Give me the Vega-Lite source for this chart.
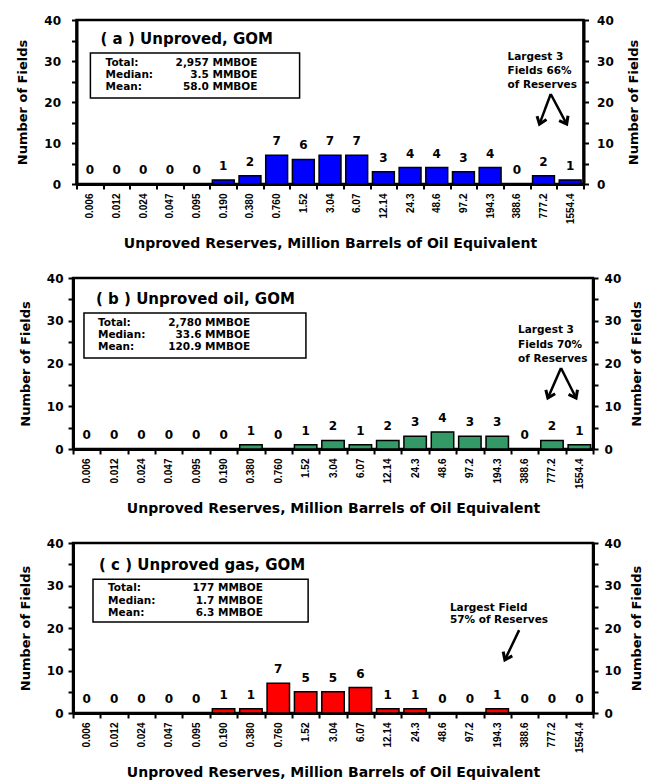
{
  "$schema": "https://vega.github.io/schema/vega-lite/v6.json",
  "padding": {"top": 12, "left": 15, "right": 14, "bottom": 0},
  "background": "white",
  "spacing": 18,
  "center": true,
  "config": {
    "font": "DejaVu Sans",
    "view": {"stroke": "black", "strokeWidth": 2.5},
    "axis": {
      "labelFont": "DejaVu Sans", "labelFontWeight": "bold", "labelColor": "black", "labelFontSize": 12,
      "titleFont": "DejaVu Sans", "titleFontWeight": "bold", "titleColor": "black", "titleFontSize": 13,
      "domainColor": "black", "domainWidth": 3, "tickColor": "black", "tickWidth": 2, "tickSize": 5, "grid": false
    },
    "text": {"font": "DejaVu Sans", "fontWeight": "bold", "color": "black"}
  },
  "datasets": {
    "a": [
      {"size": "0.006", "fields": 0}, {"size": "0.012", "fields": 0}, {"size": "0.024", "fields": 0},
      {"size": "0.047", "fields": 0}, {"size": "0.095", "fields": 0}, {"size": "0.190", "fields": 1},
      {"size": "0.380", "fields": 2}, {"size": "0.760", "fields": 7}, {"size": "1.52", "fields": 6},
      {"size": "3.04", "fields": 7}, {"size": "6.07", "fields": 7}, {"size": "12.14", "fields": 3},
      {"size": "24.3", "fields": 4}, {"size": "48.6", "fields": 4}, {"size": "97.2", "fields": 3},
      {"size": "194.3", "fields": 4}, {"size": "388.6", "fields": 0}, {"size": "777.2", "fields": 2},
      {"size": "1554.4", "fields": 1}
    ],
    "b": [
      {"size": "0.006", "fields": 0}, {"size": "0.012", "fields": 0}, {"size": "0.024", "fields": 0},
      {"size": "0.047", "fields": 0}, {"size": "0.095", "fields": 0}, {"size": "0.190", "fields": 0},
      {"size": "0.380", "fields": 1}, {"size": "0.760", "fields": 0}, {"size": "1.52", "fields": 1},
      {"size": "3.04", "fields": 2}, {"size": "6.07", "fields": 1}, {"size": "12.14", "fields": 2},
      {"size": "24.3", "fields": 3}, {"size": "48.6", "fields": 4}, {"size": "97.2", "fields": 3},
      {"size": "194.3", "fields": 3}, {"size": "388.6", "fields": 0}, {"size": "777.2", "fields": 2},
      {"size": "1554.4", "fields": 1}
    ],
    "c": [
      {"size": "0.006", "fields": 0}, {"size": "0.012", "fields": 0}, {"size": "0.024", "fields": 0},
      {"size": "0.047", "fields": 0}, {"size": "0.095", "fields": 0}, {"size": "0.190", "fields": 1},
      {"size": "0.380", "fields": 1}, {"size": "0.760", "fields": 7}, {"size": "1.52", "fields": 5},
      {"size": "3.04", "fields": 5}, {"size": "6.07", "fields": 6}, {"size": "12.14", "fields": 1},
      {"size": "24.3", "fields": 1}, {"size": "48.6", "fields": 0}, {"size": "97.2", "fields": 0},
      {"size": "194.3", "fields": 1}, {"size": "388.6", "fields": 0}, {"size": "777.2", "fields": 0},
      {"size": "1554.4", "fields": 0}
    ]
  },
  "vconcat": [
    {
      "width": 507, "height": 164,
      "layer": [
        {
          "data": {"name": "a"},
          "mark": {"type": "bar", "color": "#0000ff", "stroke": "black", "strokeWidth": 1.5},
          "encoding": {
            "x": {"field": "size", "type": "ordinal", "sort": null, "scale": {"paddingInner": 0.18, "paddingOuter": 0.09}, "axis": null},
            "y": {"field": "fields", "type": "quantitative", "scale": {"domain": [0, 40], "nice": false},
              "axis": {"orient": "left", "values": [0, 5, 10, 15, 20, 25, 30, 35, 40], "labelExpr": "datum.value % 10 === 0 ? datum.label : ''", "labelOverlap": false, "title": "Number of Fields", "labelPadding": 11, "titlePadding": 14}}
          }
        },
        {
          "data": {"name": "a"},
          "mark": {"type": "text", "fontSize": 12, "fontWeight": "bold", "baseline": "middle", "dy": -14},
          "encoding": {
            "x": {"field": "size", "type": "ordinal", "sort": null, "scale": {"paddingInner": 0.18, "paddingOuter": 0.09},
              "axis": {"orient": "bottom", "title": "Unproved Reserves, Million Barrels of Oil Equivalent", "titleFontSize": 14, "labelFont": "Liberation Sans", "labelAngle": -90, "labelFontSize": 10, "ticks": false, "tickSize": 0, "domain": false, "labelPadding": 9, "titlePadding": 13, "labelOverlap": false}},
            "y": {"field": "fields", "type": "quantitative", "scale": {"domain": [0, 40], "nice": false},
              "axis": {"orient": "right", "values": [0, 5, 10, 15, 20, 25, 30, 35, 40], "labelExpr": "datum.value % 10 === 0 ? datum.label : ''", "labelOverlap": false, "title": "Number of Fields", "titleAngle": 270, "titleBaseline": "top", "labelPadding": 8, "titlePadding": 14}},
            "text": {"field": "fields", "type": "quantitative"}
          }
        },
        {
          "data": {"values": [{}]},
          "mark": {"type": "rect", "fill": "white", "stroke": "black", "strokeWidth": 1.5},
          "encoding": {
            "x": {"datum": 0.52, "type": "quantitative", "scale": {"domain": [0, 19], "nice": false, "zero": false},
              "axis": {"orient": "bottom", "values": [0, 1, 2, 3, 4, 5, 6, 7, 8, 9, 10, 11, 12, 13, 14, 15, 16, 17, 18, 19], "labels": false, "title": null, "tickSize": 5}},
            "x2": {"datum": 8.36},
            "y": {"datum": 31.95, "type": "quantitative", "scale": {"domain": [0, 40], "nice": false}, "axis": null},
            "y2": {"datum": 21.0}
          }
        },
        {
          "data": {"values": [{}]},
          "mark": {"type": "text", "text": "( a )  Unproved, GOM", "align": "left", "baseline": "alphabetic", "fontSize": 15, "fontWeight": "bold"},
          "encoding": {
            "x": {"datum": 0.9, "type": "quantitative", "scale": {"domain": [0, 19], "nice": false, "zero": false}, "axis": null},
            "y": {"datum": 34.15, "type": "quantitative", "scale": {"domain": [0, 40], "nice": false}, "axis": null}
          }
        },
        {
          "data": {"values": [{}]},
          "mark": {"type": "text", "text": ["Total:", "Median:", "Mean:"], "align": "left", "baseline": "alphabetic", "fontSize": 10.5, "fontWeight": "bold", "lineHeight": 12},
          "encoding": {
            "x": {"datum": 1.09, "type": "quantitative", "scale": {"domain": [0, 19], "nice": false, "zero": false}, "axis": null},
            "y": {"datum": 28.78, "type": "quantitative", "scale": {"domain": [0, 40], "nice": false}, "axis": null}
          }
        },
        {
          "data": {"values": [{}]},
          "mark": {"type": "text", "text": ["2,957 MMBOE", "3.5 MMBOE", "58.0 MMBOE"], "align": "right", "baseline": "alphabetic", "fontSize": 10.5, "fontWeight": "bold", "lineHeight": 12},
          "encoding": {
            "x": {"datum": 6.78, "type": "quantitative", "scale": {"domain": [0, 19], "nice": false, "zero": false}, "axis": null},
            "y": {"datum": 28.78, "type": "quantitative", "scale": {"domain": [0, 40], "nice": false}, "axis": null}
          }
        },
        {
          "data": {"values": [{}]},
          "mark": {"type": "text", "text": ["Largest 3", "Fields 66%", "of Reserves"], "align": "left", "baseline": "alphabetic", "fontSize": 10.5, "fontWeight": "bold", "lineHeight": 14},
          "encoding": {
            "x": {"datum": 16.15, "type": "quantitative", "scale": {"domain": [0, 19], "nice": false, "zero": false}, "axis": null},
            "y": {"datum": 30.24, "type": "quantitative", "scale": {"domain": [0, 40], "nice": false}, "axis": null}
          }
        },
        {
          "data": {"values": [{}]},
          "mark": {"type": "rule", "strokeWidth": 2.5, "color": "black"},
          "encoding": {
            "x": {"datum": 17.77, "type": "quantitative", "scale": {"domain": [0, 19], "nice": false, "zero": false}, "axis": null},
            "x2": {"datum": 17.35},
            "y": {"datum": 21.95, "type": "quantitative", "scale": {"domain": [0, 40], "nice": false}, "axis": null},
            "y2": {"datum": 14.6}
          }
        },
        {
          "data": {"values": [{}]},
          "mark": {"type": "rule", "strokeWidth": 2.5, "color": "black"},
          "encoding": {
            "x": {"datum": 17.77, "type": "quantitative", "scale": {"domain": [0, 19], "nice": false, "zero": false}, "axis": null},
            "x2": {"datum": 18.37},
            "y": {"datum": 21.95, "type": "quantitative", "scale": {"domain": [0, 40], "nice": false}, "axis": null},
            "y2": {"datum": 14.6}
          }
        },
        {
          "data": {"values": [{}]},
          "mark": {"type": "point", "shape": "M-1,-0.75L0,0L-1,0.75", "size": 180, "strokeWidth": 3, "filled": false, "color": "black", "opacity": 1, "angle": 110},
          "encoding": {
            "x": {"datum": 17.35, "type": "quantitative", "scale": {"domain": [0, 19], "nice": false, "zero": false}, "axis": null},
            "y": {"datum": 14.6, "type": "quantitative", "scale": {"domain": [0, 40], "nice": false}, "axis": null}
          }
        },
        {
          "data": {"values": [{}]},
          "mark": {"type": "point", "shape": "M-1,-0.75L0,0L-1,0.75", "size": 180, "strokeWidth": 3, "filled": false, "color": "black", "opacity": 1, "angle": 62},
          "encoding": {
            "x": {"datum": 18.37, "type": "quantitative", "scale": {"domain": [0, 19], "nice": false, "zero": false}, "axis": null},
            "y": {"datum": 14.6, "type": "quantitative", "scale": {"domain": [0, 40], "nice": false}, "axis": null}
          }
        }
      ],
      "resolve": {"scale": {"x": "independent"}, "axis": {"x": "independent", "y": "independent"}}
    },
    {
      "width": 520, "height": 171,
      "layer": [
        {
          "data": {"name": "b"},
          "mark": {"type": "bar", "color": "#339966", "stroke": "black", "strokeWidth": 1.5},
          "encoding": {
            "x": {"field": "size", "type": "ordinal", "sort": null, "scale": {"paddingInner": 0.18, "paddingOuter": 0.09}, "axis": null},
            "y": {"field": "fields", "type": "quantitative", "scale": {"domain": [0, 40], "nice": false},
              "axis": {"orient": "left", "values": [0, 5, 10, 15, 20, 25, 30, 35, 40], "labelExpr": "datum.value % 10 === 0 ? datum.label : ''", "labelOverlap": false, "title": "Number of Fields", "labelPadding": 5, "titlePadding": 14}}
          }
        },
        {
          "data": {"name": "b"},
          "mark": {"type": "text", "fontSize": 12, "fontWeight": "bold", "baseline": "middle", "dy": -14},
          "encoding": {
            "x": {"field": "size", "type": "ordinal", "sort": null, "scale": {"paddingInner": 0.18, "paddingOuter": 0.09},
              "axis": {"orient": "bottom", "title": "Unproved Reserves, Million Barrels of Oil Equivalent", "titleFontSize": 14, "labelFont": "Liberation Sans", "labelAngle": -90, "labelFontSize": 10, "ticks": false, "tickSize": 0, "domain": false, "labelPadding": 9, "titlePadding": 13, "labelOverlap": false}},
            "y": {"field": "fields", "type": "quantitative", "scale": {"domain": [0, 40], "nice": false},
              "axis": {"orient": "right", "values": [0, 5, 10, 15, 20, 25, 30, 35, 40], "labelExpr": "datum.value % 10 === 0 ? datum.label : ''", "labelOverlap": false, "title": "Number of Fields", "titleAngle": 270, "titleBaseline": "top", "labelPadding": 6, "titlePadding": 10}},
            "text": {"field": "fields", "type": "quantitative"}
          }
        },
        {
          "data": {"values": [{}]},
          "mark": {"type": "rect", "fill": "white", "stroke": "black", "strokeWidth": 1.5},
          "encoding": {
            "x": {"datum": 0.4, "type": "quantitative", "scale": {"domain": [0, 19], "nice": false, "zero": false},
              "axis": {"orient": "bottom", "values": [0, 1, 2, 3, 4, 5, 6, 7, 8, 9, 10, 11, 12, 13, 14, 15, 16, 17, 18, 19], "labels": false, "title": null, "tickSize": 5}},
            "x2": {"datum": 8.51},
            "y": {"datum": 31.8, "type": "quantitative", "scale": {"domain": [0, 40], "nice": false}, "axis": null},
            "y2": {"datum": 21.3}
          }
        },
        {
          "data": {"values": [{}]},
          "mark": {"type": "text", "text": "( b )  Unproved oil, GOM", "align": "left", "baseline": "alphabetic", "fontSize": 15, "fontWeight": "bold"},
          "encoding": {
            "x": {"datum": 0.84, "type": "quantitative", "scale": {"domain": [0, 19], "nice": false, "zero": false}, "axis": null},
            "y": {"datum": 33.9, "type": "quantitative", "scale": {"domain": [0, 40], "nice": false}, "axis": null}
          }
        },
        {
          "data": {"values": [{}]},
          "mark": {"type": "text", "text": ["Total:", "Median:", "Mean:"], "align": "left", "baseline": "alphabetic", "fontSize": 10.5, "fontWeight": "bold", "lineHeight": 12},
          "encoding": {
            "x": {"datum": 0.91, "type": "quantitative", "scale": {"domain": [0, 19], "nice": false, "zero": false}, "axis": null},
            "y": {"datum": 28.77, "type": "quantitative", "scale": {"domain": [0, 40], "nice": false}, "axis": null}
          }
        },
        {
          "data": {"values": [{}]},
          "mark": {"type": "text", "text": ["2,780 MMBOE", "33.6 MMBOE", "120.9 MMBOE"], "align": "right", "baseline": "alphabetic", "fontSize": 10.5, "fontWeight": "bold", "lineHeight": 12},
          "encoding": {
            "x": {"datum": 6.47, "type": "quantitative", "scale": {"domain": [0, 19], "nice": false, "zero": false}, "axis": null},
            "y": {"datum": 28.77, "type": "quantitative", "scale": {"domain": [0, 40], "nice": false}, "axis": null}
          }
        },
        {
          "data": {"values": [{}]},
          "mark": {"type": "text", "text": ["Largest 3", "Fields 70%", "of Reserves"], "align": "left", "baseline": "alphabetic", "fontSize": 10.5, "fontWeight": "bold", "lineHeight": 14.5},
          "encoding": {
            "x": {"datum": 16.26, "type": "quantitative", "scale": {"domain": [0, 19], "nice": false, "zero": false}, "axis": null},
            "y": {"datum": 27.13, "type": "quantitative", "scale": {"domain": [0, 40], "nice": false}, "axis": null}
          }
        },
        {
          "data": {"values": [{}]},
          "mark": {"type": "rule", "strokeWidth": 2.5, "color": "black"},
          "encoding": {
            "x": {"datum": 17.83, "type": "quantitative", "scale": {"domain": [0, 19], "nice": false, "zero": false}, "axis": null},
            "x2": {"datum": 17.35},
            "y": {"datum": 18.95, "type": "quantitative", "scale": {"domain": [0, 40], "nice": false}, "axis": null},
            "y2": {"datum": 11.93}
          }
        },
        {
          "data": {"values": [{}]},
          "mark": {"type": "rule", "strokeWidth": 2.5, "color": "black"},
          "encoding": {
            "x": {"datum": 17.83, "type": "quantitative", "scale": {"domain": [0, 19], "nice": false, "zero": false}, "axis": null},
            "x2": {"datum": 18.38},
            "y": {"datum": 18.95, "type": "quantitative", "scale": {"domain": [0, 40], "nice": false}, "axis": null},
            "y2": {"datum": 11.93}
          }
        },
        {
          "data": {"values": [{}]},
          "mark": {"type": "point", "shape": "M-1,-0.75L0,0L-1,0.75", "size": 180, "strokeWidth": 3, "filled": false, "color": "black", "opacity": 1, "angle": 113},
          "encoding": {
            "x": {"datum": 17.35, "type": "quantitative", "scale": {"domain": [0, 19], "nice": false, "zero": false}, "axis": null},
            "y": {"datum": 11.93, "type": "quantitative", "scale": {"domain": [0, 40], "nice": false}, "axis": null}
          }
        },
        {
          "data": {"values": [{}]},
          "mark": {"type": "point", "shape": "M-1,-0.75L0,0L-1,0.75", "size": 180, "strokeWidth": 3, "filled": false, "color": "black", "opacity": 1, "angle": 63},
          "encoding": {
            "x": {"datum": 18.38, "type": "quantitative", "scale": {"domain": [0, 19], "nice": false, "zero": false}, "axis": null},
            "y": {"datum": 11.93, "type": "quantitative", "scale": {"domain": [0, 40], "nice": false}, "axis": null}
          }
        }
      ],
      "resolve": {"scale": {"x": "independent"}, "axis": {"x": "independent", "y": "independent"}}
    },
    {
      "width": 520, "height": 170,
      "layer": [
        {
          "data": {"name": "c"},
          "mark": {"type": "bar", "color": "#ff0000", "stroke": "black", "strokeWidth": 1.5},
          "encoding": {
            "x": {"field": "size", "type": "ordinal", "sort": null, "scale": {"paddingInner": 0.18, "paddingOuter": 0.09}, "axis": null},
            "y": {"field": "fields", "type": "quantitative", "scale": {"domain": [0, 40], "nice": false},
              "axis": {"orient": "left", "values": [0, 5, 10, 15, 20, 25, 30, 35, 40], "labelExpr": "datum.value % 10 === 0 ? datum.label : ''", "labelOverlap": false, "title": "Number of Fields", "labelPadding": 5, "titlePadding": 14}}
          }
        },
        {
          "data": {"name": "c"},
          "mark": {"type": "text", "fontSize": 12, "fontWeight": "bold", "baseline": "middle", "dy": -14},
          "encoding": {
            "x": {"field": "size", "type": "ordinal", "sort": null, "scale": {"paddingInner": 0.18, "paddingOuter": 0.09},
              "axis": {"orient": "bottom", "title": "Unproved Reserves, Million Barrels of Oil Equivalent", "titleFontSize": 14, "labelFont": "Liberation Sans", "labelAngle": -90, "labelFontSize": 10, "ticks": false, "tickSize": 0, "domain": false, "labelPadding": 9, "titlePadding": 13, "labelOverlap": false}},
            "y": {"field": "fields", "type": "quantitative", "scale": {"domain": [0, 40], "nice": false},
              "axis": {"orient": "right", "values": [0, 5, 10, 15, 20, 25, 30, 35, 40], "labelExpr": "datum.value % 10 === 0 ? datum.label : ''", "labelOverlap": false, "title": "Number of Fields", "titleAngle": 270, "titleBaseline": "top", "labelPadding": 6, "titlePadding": 10}},
            "text": {"field": "fields", "type": "quantitative"}
          }
        },
        {
          "data": {"values": [{}]},
          "mark": {"type": "rect", "fill": "white", "stroke": "black", "strokeWidth": 1.5},
          "encoding": {
            "x": {"datum": 0.73, "type": "quantitative", "scale": {"domain": [0, 19], "nice": false, "zero": false},
              "axis": {"orient": "bottom", "values": [0, 1, 2, 3, 4, 5, 6, 7, 8, 9, 10, 11, 12, 13, 14, 15, 16, 17, 18, 19], "labels": false, "title": null, "tickSize": 5}},
            "x2": {"datum": 8.59},
            "y": {"datum": 31.5, "type": "quantitative", "scale": {"domain": [0, 40], "nice": false}, "axis": null},
            "y2": {"datum": 21.4}
          }
        },
        {
          "data": {"values": [{}]},
          "mark": {"type": "text", "text": "( c )  Unproved gas, GOM", "align": "left", "baseline": "alphabetic", "fontSize": 15, "fontWeight": "bold"},
          "encoding": {
            "x": {"datum": 0.95, "type": "quantitative", "scale": {"domain": [0, 19], "nice": false, "zero": false}, "axis": null},
            "y": {"datum": 33.65, "type": "quantitative", "scale": {"domain": [0, 40], "nice": false}, "axis": null}
          }
        },
        {
          "data": {"values": [{}]},
          "mark": {"type": "text", "text": ["Total:", "Median:", "Mean:"], "align": "left", "baseline": "alphabetic", "fontSize": 10.5, "fontWeight": "bold", "lineHeight": 12.5},
          "encoding": {
            "x": {"datum": 1.28, "type": "quantitative", "scale": {"domain": [0, 19], "nice": false, "zero": false}, "axis": null},
            "y": {"datum": 28.7, "type": "quantitative", "scale": {"domain": [0, 40], "nice": false}, "axis": null}
          }
        },
        {
          "data": {"values": [{}]},
          "mark": {"type": "text", "text": ["177 MMBOE", "1.7 MMBOE", "6.3 MMBOE"], "align": "right", "baseline": "alphabetic", "fontSize": 10.5, "fontWeight": "bold", "lineHeight": 12.5},
          "encoding": {
            "x": {"datum": 6.94, "type": "quantitative", "scale": {"domain": [0, 19], "nice": false, "zero": false}, "axis": null},
            "y": {"datum": 28.7, "type": "quantitative", "scale": {"domain": [0, 40], "nice": false}, "axis": null}
          }
        },
        {
          "data": {"values": [{}]},
          "mark": {"type": "text", "text": ["Largest Field", "57% of Reserves"], "align": "left", "baseline": "alphabetic", "fontSize": 10.5, "fontWeight": "bold", "lineHeight": 12},
          "encoding": {
            "x": {"datum": 13.77, "type": "quantitative", "scale": {"domain": [0, 19], "nice": false, "zero": false}, "axis": null},
            "y": {"datum": 24.0, "type": "quantitative", "scale": {"domain": [0, 40], "nice": false}, "axis": null}
          }
        },
        {
          "data": {"values": [{}]},
          "mark": {"type": "rule", "strokeWidth": 2.5, "color": "black"},
          "encoding": {
            "x": {"datum": 16.3, "type": "quantitative", "scale": {"domain": [0, 19], "nice": false, "zero": false}, "axis": null},
            "x2": {"datum": 15.78},
            "y": {"datum": 19.5, "type": "quantitative", "scale": {"domain": [0, 40], "nice": false}, "axis": null},
            "y2": {"datum": 12.5}
          }
        },
        {
          "data": {"values": [{}]},
          "mark": {"type": "point", "shape": "M-1,-0.75L0,0L-1,0.75", "size": 180, "strokeWidth": 3, "filled": false, "color": "black", "opacity": 1, "angle": 115},
          "encoding": {
            "x": {"datum": 15.78, "type": "quantitative", "scale": {"domain": [0, 19], "nice": false, "zero": false}, "axis": null},
            "y": {"datum": 12.5, "type": "quantitative", "scale": {"domain": [0, 40], "nice": false}, "axis": null}
          }
        }
      ],
      "resolve": {"scale": {"x": "independent"}, "axis": {"x": "independent", "y": "independent"}}
    }
  ]
}
